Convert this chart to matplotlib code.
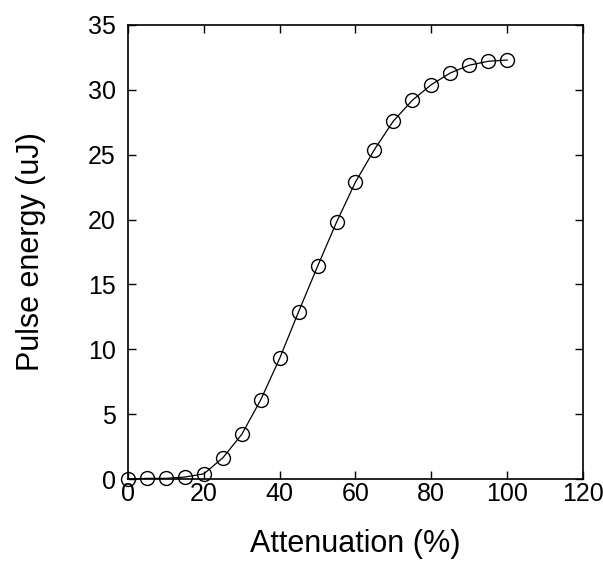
import matplotlib
matplotlib.use("Agg")
import matplotlib.pyplot as plt

plt.rcParams['font.family'] = ['Liberation Sans', 'DejaVu Sans']

# attenuation setting (%) and measured pulse energy (uJ)
attenuation = [0, 5, 10, 15, 20, 25, 30, 35, 40, 45, 50,
               55, 60, 65, 70, 75, 80, 85, 90, 95, 100]
pulse_energy = [0.0, 0.05, 0.05, 0.15, 0.4, 1.63, 3.44, 6.1, 9.3, 12.9, 16.4,
                19.8, 22.9, 25.4, 27.6, 29.2, 30.4, 31.3, 31.9, 32.2, 32.3]

x_ticks = [0, 20, 40, 60, 80, 100, 120]
y_ticks = [0, 5, 10, 15, 20, 25, 30, 35]

fig = plt.figure(figsize=(6.03, 5.64), dpi=100)
ax = fig.add_axes([0.2123, 0.1507, 0.7545, 0.805])

ax.plot(attenuation, pulse_energy, color='black', linewidth=0.9,
        marker='o', markersize=10, markerfacecolor='none',
        markeredgecolor='black', markeredgewidth=1.0, clip_on=False)

ax.set_xlim(0, 120)
ax.set_ylim(0, 35)
ax.set_xticks(x_ticks)
ax.set_yticks(y_ticks)

ax.tick_params(direction='in', length=6, width=1.0, labelsize=18,
               top=True, right=True)
ax.tick_params(axis='x', pad=2)
ax.tick_params(axis='y', pad=9)

for s in ax.spines.values():
    s.set_linewidth(1.2)

ax.set_xlabel('Attenuation (%)', fontsize=22, labelpad=17)
ax.set_ylabel('Pulse energy (uJ)', fontsize=22, labelpad=30)

fig.savefig('out.png', dpi=100)
